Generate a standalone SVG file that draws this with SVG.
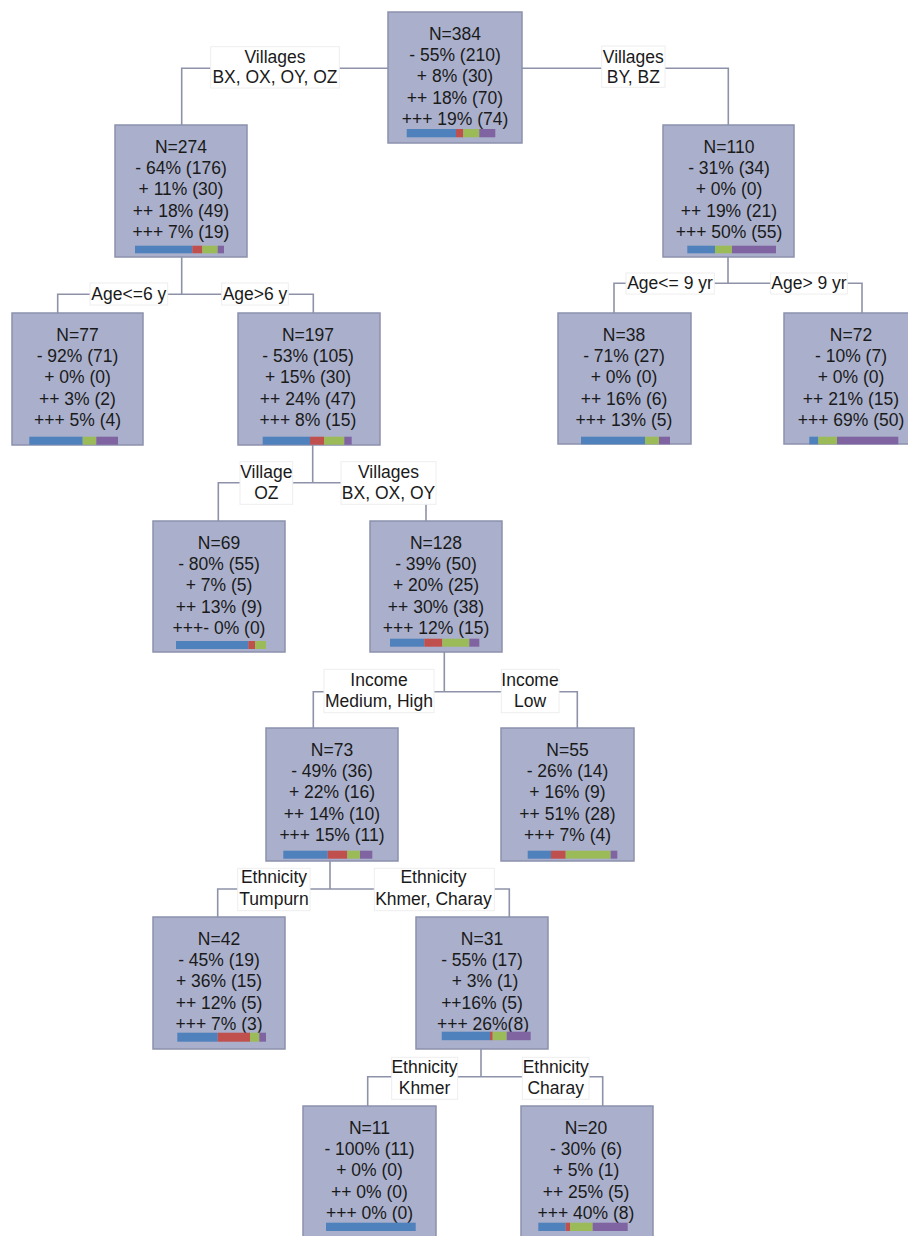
<svg xmlns="http://www.w3.org/2000/svg" width="908" height="1236" viewBox="0 0 908 1236">
<style>
.box{fill:#AAB0CB;stroke:#8C91AD;stroke-width:1.5}
.t{font-family:"Liberation Sans",Arial,sans-serif;font-size:17.5px;fill:#1a1a1a;text-anchor:middle}
.b{fill:#4F81BD}.r{fill:#C0504D}.g{fill:#9BBB59}.p{fill:#8064A2}
.lbl{fill:#ffffff;stroke:#eeeeee;stroke-width:1}
.c{fill:none;stroke:#8E92A8;stroke-width:1.6}
</style>
<rect width="908" height="1236" fill="#ffffff"/>
<g id="connectors">
<path class="c" d="M388 68.3H181.7V125M522 68.3H728.3V125"/>
<path class="c" d="M181.7 257V294.3M57.7 313V294.3H313.3V313"/>
<path class="c" d="M728 257V283.3M614 313V283.3H862V313"/>
<path class="c" d="M312.7 445V482.7M218.3 521V482.7H426V521"/>
<path class="c" d="M444.3 652V691.7M313.3 728V691.7H577.3V728"/>
<path class="c" d="M330 861V889M217.7 917V889H509.3V917"/>
<path class="c" d="M481 1049V1076.7M367.7 1106V1076.7H602.7V1106"/>
</g>
<g id="labels">
<g id="lbl-villages-left"><rect class="lbl" x="210.7" y="46.7" width="128.6" height="41.3"/><text class="t" x="275" y="62.7">Villages</text><text class="t" x="275" y="83">BX, OX, OY, OZ</text></g>
<g id="lbl-villages-right"><rect class="lbl" x="601.7" y="46" width="63.3" height="41.3"/><text class="t" x="633.3" y="62.7">Villages</text><text class="t" x="633.3" y="83">BY, BZ</text></g>
<g id="lbl-age6le"><rect class="lbl" x="90" y="283" width="77.7" height="22"/><text class="t" x="128.8" y="299.5">Age&lt;=6 y</text></g>
<g id="lbl-age6gt"><rect class="lbl" x="221.7" y="283" width="66.6" height="22"/><text class="t" x="255" y="299.5">Age&gt;6 y</text></g>
<g id="lbl-age9le"><rect class="lbl" x="626" y="273" width="88.3" height="21"/><text class="t" x="670" y="288.5">Age&lt;= 9 yr</text></g>
<g id="lbl-age9gt"><rect class="lbl" x="770.7" y="273" width="76.6" height="21"/><text class="t" x="809" y="288.5">Age&gt; 9 yr</text></g>
<g id="lbl-village-oz"><rect class="lbl" x="240" y="461.7" width="52.7" height="42.6"/><text class="t" x="266.3" y="477.5">Village</text><text class="t" x="266.3" y="499">OZ</text></g>
<g id="lbl-villages-bxoxoy"><rect class="lbl" x="341" y="461.7" width="95" height="42.6"/><text class="t" x="388.5" y="477.5">Villages</text><text class="t" x="388.5" y="499">BX, OX, OY</text></g>
<g id="lbl-income-mh"><rect class="lbl" x="324" y="669.3" width="110" height="43.4"/><text class="t" x="379" y="685.7">Income</text><text class="t" x="379" y="707.3">Medium, High</text></g>
<g id="lbl-income-low"><rect class="lbl" x="501.3" y="669.3" width="57.7" height="43.4"/><text class="t" x="530" y="685.7">Income</text><text class="t" x="530" y="707.3">Low</text></g>
<g id="lbl-eth-tumpurn"><rect class="lbl" x="237.7" y="868.3" width="72.3" height="42.4"/><text class="t" x="274" y="883.3">Ethnicity</text><text class="t" x="274" y="905">Tumpurn</text></g>
<g id="lbl-eth-kc"><rect class="lbl" x="374.3" y="868.3" width="120" height="42.4"/><text class="t" x="433.5" y="883.3">Ethnicity</text><text class="t" x="433.5" y="905">Khmer, Charay</text></g>
<g id="lbl-eth-khmer"><rect class="lbl" x="391.7" y="1057.3" width="66" height="42"/><text class="t" x="424.5" y="1072.7">Ethnicity</text><text class="t" x="424.5" y="1094">Khmer</text></g>
<g id="lbl-eth-charay"><rect class="lbl" x="522.3" y="1057.3" width="66.7" height="42"/><text class="t" x="555.7" y="1072.7">Ethnicity</text><text class="t" x="555.7" y="1094">Charay</text></g>
</g>
<g id="n384"><rect class="box" x="388" y="12" width="134" height="131"/>
<text class="t" x="455" y="39.8">N=384</text><text class="t" x="455" y="61.1">- 55% (210)</text><text class="t" x="455" y="82.4">+ 8% (30)</text><text class="t" x="455" y="103.7">++ 18% (70)</text><text class="t" x="455" y="125">+++ 19% (74)</text>
<rect class="b" x="406.7" y="129" width="49.3" height="8.3"/><rect class="r" x="456" y="129" width="7.3" height="8.3"/><rect class="g" x="463.3" y="129" width="16" height="8.3"/><rect class="p" x="479.3" y="129" width="16" height="8.3"/></g>
<g id="n274"><rect class="box" x="115" y="125" width="132" height="132"/>
<text class="t" x="181" y="152.8">N=274</text><text class="t" x="181" y="174.1">- 64% (176)</text><text class="t" x="181" y="195.4">+ 11% (30)</text><text class="t" x="181" y="216.7">++ 18% (49)</text><text class="t" x="181" y="238">+++ 7% (19)</text>
<rect class="b" x="135" y="245.7" width="57.3" height="7.6"/><rect class="r" x="192.3" y="245.7" width="10" height="7.6"/><rect class="g" x="202.3" y="245.7" width="15.4" height="7.6"/><rect class="p" x="217.7" y="245.7" width="6.3" height="7.6"/></g>
<g id="n110"><rect class="box" x="663" y="125" width="131" height="132"/>
<text class="t" x="729" y="152.8">N=110</text><text class="t" x="729" y="174.1">- 31% (34)</text><text class="t" x="729" y="195.4">+ 0% (0)</text><text class="t" x="729" y="216.7">++ 19% (21)</text><text class="t" x="729" y="238">+++ 50% (55)</text>
<rect class="b" x="687.3" y="245.7" width="27.7" height="7.6"/><rect class="g" x="715" y="245.7" width="17" height="7.6"/><rect class="p" x="732" y="245.7" width="44" height="7.6"/></g>
<g id="n77"><rect class="box" x="12" y="313" width="131" height="132"/>
<text class="t" x="77.5" y="340.8">N=77</text><text class="t" x="77.5" y="362.1">- 92% (71)</text><text class="t" x="77.5" y="383.4">+ 0% (0)</text><text class="t" x="77.5" y="404.7">++ 3% (2)</text><text class="t" x="77.5" y="426">+++ 5% (4)</text>
<rect class="b" x="29.3" y="436.7" width="53.4" height="8"/><rect class="g" x="82.7" y="436.7" width="13.6" height="8"/><rect class="p" x="96.3" y="436.7" width="21.7" height="8"/></g>
<g id="n197"><rect class="box" x="238" y="313" width="142" height="132"/>
<text class="t" x="308" y="340.8">N=197</text><text class="t" x="308" y="362.1">- 53% (105)</text><text class="t" x="308" y="383.4">+ 15% (30)</text><text class="t" x="308" y="404.7">++ 24% (47)</text><text class="t" x="308" y="426">+++ 8% (15)</text>
<rect class="b" x="262.7" y="436.7" width="47.3" height="8"/><rect class="r" x="310" y="436.7" width="14" height="8"/><rect class="g" x="324" y="436.7" width="20.3" height="8"/><rect class="p" x="344.3" y="436.7" width="7.4" height="8"/></g>
<g id="n38"><rect class="box" x="558" y="313" width="133" height="131"/>
<text class="t" x="624" y="340.8">N=38</text><text class="t" x="624" y="362.1">- 71% (27)</text><text class="t" x="624" y="383.4">+ 0% (0)</text><text class="t" x="624" y="404.7">++ 16% (6)</text><text class="t" x="624" y="426">+++ 13% (5)</text>
<rect class="b" x="581" y="436.7" width="64" height="7.6"/><rect class="g" x="645" y="436.7" width="14" height="7.6"/><rect class="p" x="659" y="436.7" width="11" height="7.6"/></g>
<g id="n72"><rect class="box" x="784" y="313" width="133" height="131"/>
<text class="t" x="851" y="340.8">N=72</text><text class="t" x="851" y="362.1">- 10% (7)</text><text class="t" x="851" y="383.4">+ 0% (0)</text><text class="t" x="851" y="404.7">++ 21% (15)</text><text class="t" x="851" y="426">+++ 69% (50)</text>
<rect class="b" x="809.3" y="436.7" width="9" height="7.6"/><rect class="g" x="818.3" y="436.7" width="18.7" height="7.6"/><rect class="p" x="837" y="436.7" width="61.3" height="7.6"/></g>
<g id="n69"><rect class="box" x="153" y="521" width="132" height="131"/>
<text class="t" x="219" y="548.8">N=69</text><text class="t" x="219" y="570.1">- 80% (55)</text><text class="t" x="219" y="591.4">+ 7% (5)</text><text class="t" x="219" y="612.7">++ 13% (9)</text><text class="t" x="219" y="634">+++- 0% (0)</text>
<rect class="b" x="176" y="641" width="72.3" height="8"/><rect class="r" x="248.3" y="641" width="6.7" height="8"/><rect class="g" x="255" y="641" width="11" height="8"/></g>
<g id="n128"><rect class="box" x="370" y="521" width="132" height="131"/>
<text class="t" x="436" y="548.8">N=128</text><text class="t" x="436" y="570.1">- 39% (50)</text><text class="t" x="436" y="591.4">+ 20% (25)</text><text class="t" x="436" y="612.7">++ 30% (38)</text><text class="t" x="436" y="634">+++ 12% (15)</text>
<rect class="b" x="390" y="638.7" width="34.3" height="8"/><rect class="r" x="424.3" y="638.7" width="18" height="8"/><rect class="g" x="442.3" y="638.7" width="27" height="8"/><rect class="p" x="469.3" y="638.7" width="10" height="8"/></g>
<g id="n73"><rect class="box" x="266" y="728" width="132" height="133"/>
<text class="t" x="332" y="755.8">N=73</text><text class="t" x="332" y="777.1">- 49% (36)</text><text class="t" x="332" y="798.4">+ 22% (16)</text><text class="t" x="332" y="819.7">++ 14% (10)</text><text class="t" x="332" y="841">+++ 15% (11)</text>
<rect class="b" x="283.3" y="850.7" width="44.4" height="8"/><rect class="r" x="327.7" y="850.7" width="19.6" height="8"/><rect class="g" x="347.3" y="850.7" width="12.7" height="8"/><rect class="p" x="360" y="850.7" width="12.3" height="8"/></g>
<g id="n55"><rect class="box" x="501" y="728" width="133" height="133"/>
<text class="t" x="567.5" y="755.8">N=55</text><text class="t" x="567.5" y="777.1">- 26% (14)</text><text class="t" x="567.5" y="798.4">+ 16% (9)</text><text class="t" x="567.5" y="819.7">++ 51% (28)</text><text class="t" x="567.5" y="841">+++ 7% (4)</text>
<rect class="b" x="527.7" y="850.7" width="23.3" height="8"/><rect class="r" x="551" y="850.7" width="14.7" height="8"/><rect class="g" x="565.7" y="850.7" width="45" height="8"/><rect class="p" x="610.7" y="850.7" width="6.6" height="8"/></g>
<g id="n42"><rect class="box" x="153" y="917" width="132" height="132"/>
<text class="t" x="219" y="944.8">N=42</text><text class="t" x="219" y="966.1">- 45% (19)</text><text class="t" x="219" y="987.4">+ 36% (15)</text><text class="t" x="219" y="1008.7">++ 12% (5)</text><text class="t" x="219" y="1030">+++ 7% (3)</text>
<rect class="b" x="177.3" y="1032.7" width="40.4" height="9"/><rect class="r" x="217.7" y="1032.7" width="32.3" height="9"/><rect class="g" x="250" y="1032.7" width="9.3" height="9"/><rect class="p" x="259.3" y="1032.7" width="6.7" height="9"/></g>
<g id="n31"><rect class="box" x="416" y="917" width="132" height="132"/>
<text class="t" x="482" y="944.8">N=31</text><text class="t" x="482" y="966.1">- 55% (17)</text><text class="t" x="485" y="987.4">+ 3% (1)</text><text class="t" x="482" y="1008.7">++16% (5)</text><text class="t" x="483" y="1030">+++ 26%(8)</text>
<rect class="b" x="441.7" y="1031.7" width="48.3" height="8.5"/><rect class="r" x="490" y="1031.7" width="2.7" height="8.5"/><rect class="g" x="492.7" y="1031.7" width="14" height="8.5"/><rect class="p" x="506.7" y="1031.7" width="24" height="8.5"/></g>
<g id="n11"><rect class="box" x="303" y="1106" width="133" height="132"/>
<text class="t" x="369.5" y="1133.8">N=11</text><text class="t" x="369.5" y="1155.1">- 100% (11)</text><text class="t" x="369.5" y="1176.4">+ 0% (0)</text><text class="t" x="369.5" y="1197.7">++ 0% (0)</text><text class="t" x="369.5" y="1219">+++ 0% (0)</text>
<rect class="b" x="326" y="1222.7" width="89.7" height="8.3"/></g>
<g id="n20"><rect class="box" x="521" y="1106" width="132" height="132"/>
<text class="t" x="586" y="1133.8">N=20</text><text class="t" x="586" y="1155.1">- 30% (6)</text><text class="t" x="586" y="1176.4">+ 5% (1)</text><text class="t" x="586" y="1197.7">++ 25% (5)</text><text class="t" x="586" y="1219">+++ 40% (8)</text>
<rect class="b" x="538.3" y="1222.7" width="27.4" height="8.3"/><rect class="r" x="565.7" y="1222.7" width="4.3" height="8.3"/><rect class="g" x="570" y="1222.7" width="22.7" height="8.3"/><rect class="p" x="592.7" y="1222.7" width="35" height="8.3"/></g>
</svg>
